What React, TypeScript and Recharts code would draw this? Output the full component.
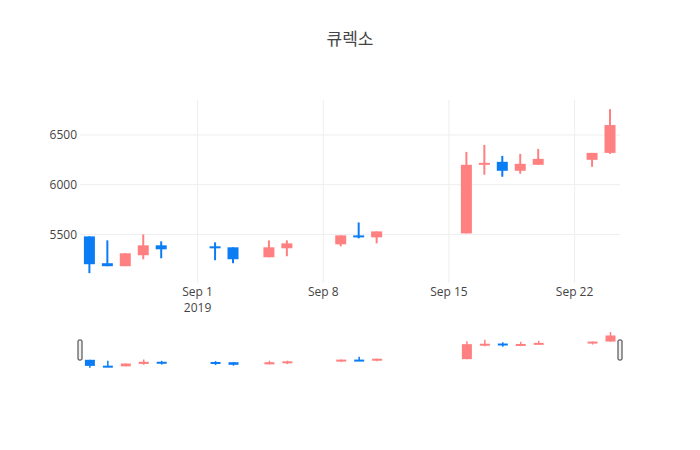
import React from 'react';
import { ComposedChart, Bar, XAxis, YAxis, ReferenceLine, ReferenceArea } from 'recharts';

const dates = [
  '2019-08-26', '2019-08-27', '2019-08-28', '2019-08-29', '2019-08-30',
  '2019-09-02', '2019-09-03', '2019-09-05', '2019-09-06',
  '2019-09-09', '2019-09-10', '2019-09-11',
  '2019-09-16', '2019-09-17', '2019-09-18', '2019-09-19', '2019-09-20',
  '2019-09-23', '2019-09-24',
];
const openValues = [5480, 5210, 5180, 5290, 5390, 5380, 5370, 5270, 5360, 5400, 5490, 5470, 5510, 6200, 6230, 6140, 6200, 6250, 6320];
const highValues = [5480, 5440, 5310, 5500, 5430, 5420, 5370, 5440, 5440, 5490, 5620, 5530, 6330, 6400, 6290, 6310, 6360, 6320, 6760];
const lowValues = [5110, 5180, 5180, 5250, 5260, 5240, 5210, 5270, 5280, 5380, 5460, 5410, 5510, 6100, 6080, 6110, 6200, 6180, 6310];
const closeValues = [5200, 5180, 5310, 5390, 5350, 5360, 5250, 5370, 5410, 5490, 5470, 5530, 6200, 6220, 6140, 6210, 6260, 6320, 6600];

const xTickDates = ['2019-09-01', '2019-09-08', '2019-09-15', '2019-09-22'];
const xTickLabels = ['Sep 1', 'Sep 8', 'Sep 15', 'Sep 22'];
const yTicks = [5500, 6000, 6500];
const title = '큐렉소';

const RED = '#ff8080';
const BLUE = '#0a7cf4';
const TEXT = '#444';
const GRID = '#eee';
const FONT = '"Open Sans", "Noto Sans CJK KR", sans-serif';

const DAY = 86400000;
const ORIGIN = Date.UTC(2019, 8, 1);
const dayOf = (s: string) => {
  const [y, m, d] = s.split('-').map(Number);
  return (Date.UTC(y, m - 1, d) - ORIGIN) / DAY;
};

const data = dates.map((d, i) => ({
  day: dayOf(d),
  open: openValues[i],
  high: highValues[i],
  low: lowValues[i],
  close: closeValues[i],
  range: [lowValues[i], highValues[i]],
}));

const xTicks = xTickDates.map(dayOf);
const xDomain = [dayOf(dates[0]) - 0.55, dayOf(dates[dates.length - 1]) + 0.53];
const yDomain = [5011, 6852];

const makeCandle = (wick: number) => (props: any) => {
  const { x, y, width, height, payload } = props;
  if (payload == null || height == null) return null;
  const { open, close, high, low } = payload;
  const ppu = height / (high - low);
  const yOf = (v: number) => y + (high - v) * ppu;
  const up = close >= open;
  const color = up ? RED : BLUE;
  const cx = x + width / 2;
  const top = yOf(Math.max(open, close));
  const bottom = yOf(Math.min(open, close));
  return (
    <g>
      <line x1={cx} x2={cx} y1={y} y2={y + height} stroke={color} strokeWidth={wick} />
      <rect x={x} y={top} width={width} height={Math.max(bottom - top, 2)} fill={color} />
    </g>
  );
};

const MainCandle = makeCandle(2);
const MiniCandle = makeCandle(1.5);

const XTick = (props: any) => {
  const { x, y, payload } = props;
  const idx = xTicks.indexOf(payload.value);
  const label = idx >= 0 ? xTickLabels[idx] : '';
  return (
    <g>
      <text x={x} y={y + 13} textAnchor="middle" fill={TEXT} fontSize={12} fontFamily={FONT}>
        {label}
      </text>
      {idx === 0 && (
        <text x={x} y={y + 29} textAnchor="middle" fill={TEXT} fontSize={12} fontFamily={FONT}>
          2019
        </text>
      )}
    </g>
  );
};

const Handles = (props: any) => {
  const { x, y, width, height } = props;
  const h = height / 2;
  const hy = y + height / 4;
  return (
    <g>
      <rect x={x - 2} y={hy} width={4} height={h} rx={1} fill="#f2f2f2" stroke="#333" strokeWidth={1} />
      <rect x={x + width - 2} y={hy} width={4} height={h} rx={1} fill="#f2f2f2" stroke="#333" strokeWidth={1} />
    </g>
  );
};

const chartMargin = { top: 100, right: 80, bottom: 0, left: 0 };

export default function App() {
  return (
    <div style={{ position: 'fixed', left: 0, top: 0, width: 700, height: 450, background: '#fff' }}>
      <svg width={700} height={70} style={{ position: 'absolute', left: 0, top: 0 }}>
        <text x={350} y={45} textAnchor="middle" fontSize={17} fill={TEXT} fontFamily={FONT}>
          {title}
        </text>
      </svg>
      {/* grid layer (behind) */}
      <div style={{ position: 'absolute', left: 0, top: 0 }}>
        <ComposedChart width={700} height={330} data={data} margin={chartMargin}>
          <XAxis dataKey="day" type="number" domain={xDomain} ticks={xTicks} allowDataOverflow axisLine={false} tickLine={false} tick={false} height={47} />
          <YAxis type="number" domain={yDomain} ticks={yTicks} allowDataOverflow axisLine={false} tickLine={false} tick={false} width={80} />
          {yTicks.map((t) => (
            <ReferenceLine key={'y' + t} y={t} stroke={GRID} strokeWidth={1} />
          ))}
          {xTicks.map((t) => (
            <ReferenceLine key={'x' + t} x={t} stroke={GRID} strokeWidth={1} />
          ))}
        </ComposedChart>
      </div>
      {/* candles + axes */}
      <div style={{ position: 'absolute', left: 0, top: 0 }}>
        <ComposedChart width={700} height={330} data={data} margin={chartMargin}>
          <XAxis
            dataKey="day"
            type="number"
            domain={xDomain}
            ticks={xTicks}
            allowDataOverflow
            axisLine={false}
            tickLine={false}
            tickSize={0}
            tickMargin={0}
            height={47}
            interval={0}
            tick={<XTick />}
          />
          <YAxis
            type="number"
            domain={yDomain}
            ticks={yTicks}
            allowDataOverflow
            axisLine={false}
            tickLine={false}
            tickSize={0}
            tickMargin={3}
            width={80}
            tick={{ fill: TEXT, fontSize: 12, fontFamily: FONT }}
          />
          <Bar dataKey="range" barSize={11} shape={<MainCandle />} isAnimationActive={false} />
        </ComposedChart>
      </div>
      <div style={{ position: 'absolute', left: 0, top: 330 }}>
        <ComposedChart width={700} height={40} data={data} margin={{ top: 0, right: 80, bottom: 0, left: 80 }}>
          <XAxis dataKey="day" type="number" domain={xDomain} allowDataOverflow hide />
          <YAxis type="number" domain={yDomain} allowDataOverflow hide />
          <Bar dataKey="range" barSize={10} shape={<MiniCandle />} isAnimationActive={false} />
          <ReferenceArea x1={xDomain[0]} x2={xDomain[1]} ifOverflow="visible" fill="none" shape={<Handles />} />
        </ComposedChart>
      </div>
    </div>
  );
}
